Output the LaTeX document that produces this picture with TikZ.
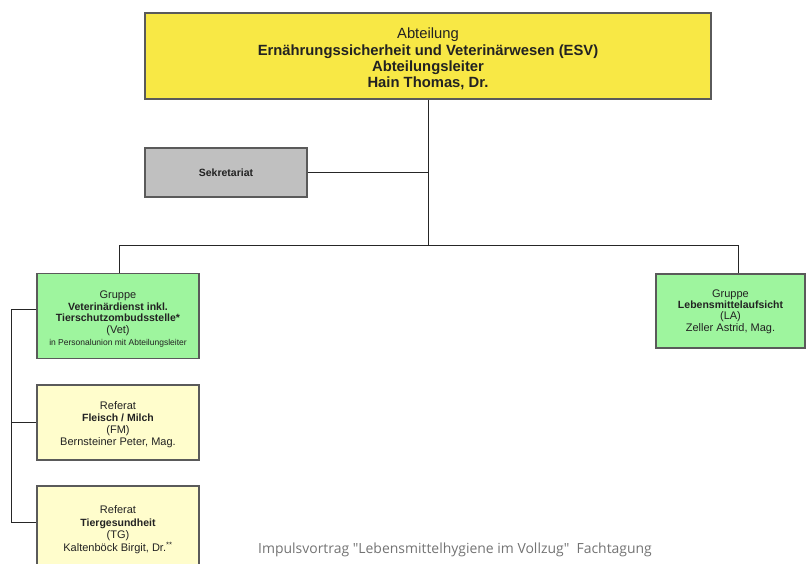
\documentclass[tikz,border=0pt]{standalone}
\usepackage{fontspec}
\setmainfont{Liberation Sans}
\newfontfamily\footfont{Open Sans}
\definecolor{topyellow}{HTML}{F8E845}
\definecolor{sekgray}{HTML}{C0C0C0}
\definecolor{grpgreen}{HTML}{9EF59E}
\definecolor{refyellow}{HTML}{FFFDCC}
\definecolor{bordergray}{HTML}{5A5A5A}
\definecolor{txt}{HTML}{222222}
\begin{document}
\begin{tikzpicture}[x=1pt,y=-1pt,
  box/.style={draw=bordergray, line width=1.2pt, inner sep=0pt},
  lbl/.style={inner sep=0pt, align=center, text=txt, font=\fontsize{11}{12}\selectfont},
  conn/.style={draw=black!85, line width=0.8pt}]
\newcommand\bt[1]{{\fontsize{10.5}{12}\selectfont\bfseries #1}}
\useasboundingbox (0,0) rectangle (806,563);
\clip (0,0) rectangle (806,563);
% boxes
\node[box, fill=topyellow, minimum width=566pt, minimum height=86pt] (top) at (428,56) {};
\node[box, fill=sekgray, minimum width=162pt, minimum height=49pt] (sek) at (226,172.5) {};
\node[box, fill=grpgreen, minimum width=162pt, minimum height=85pt] (vet) at (118,316) {};
\node[box, fill=grpgreen, minimum width=149pt, minimum height=74pt] (la) at (730.5,311) {};
\node[box, fill=refyellow, minimum width=162pt, minimum height=75pt] (fm) at (118,422.5) {};
\node[box, fill=refyellow, minimum width=162pt, minimum height=80pt] (tg) at (118,526) {};
% texts
\node[lbl, font=\fontsize{14.8}{16.3}\selectfont] (topt) at ([yshift=-3pt]top.center)
  {Abteilung\\\textbf{Ernährungssicherheit und Veterinärwesen (ESV)}\\\textbf{Abteilungsleiter}\\\textbf{Hain Thomas, Dr.}};
\node[lbl, font=\fontsize{10.5}{12}\selectfont\bfseries] (sekt) at (sek.center) {Sekretariat};
\node[lbl, font=\fontsize{11}{11.6}\selectfont] (vett) at ([yshift=-3pt]vet.center)
  {Gruppe\\\bt{Veterinärdienst inkl.}\\\bt{Tierschutzombudsstelle*}\\(Vet)\\{\fontsize{8.5}{10.5}\selectfont in Personalunion mit Abteilungsleiter}};
\node[lbl, font=\fontsize{11}{11.4}\selectfont] (lat) at ([yshift=-0.5pt]la.center)
  {Gruppe\\\bt{Lebensmittelaufsicht}\\(LA)\\Zeller Astrid, Mag.};
\node[lbl] (fmt) at ([yshift=-2.5pt]fm.center)
  {Referat\\\bt{Fleisch / Milch}\\(FM)\\Bernsteiner Peter, Mag.};
\node[lbl, font=\fontsize{11}{12.6}\selectfont] (tgt) at ([yshift=-3.5pt]tg.center)
  {Referat\\\bt{Tiergesundheit}\\(TG)\\Kaltenböck Birgit, Dr.\textsuperscript{**}};
% connectors
\coordinate (hub) at (428,245);
\coordinate (hl) at (119,245);
\coordinate (hr) at (738,245);
\coordinate (sj) at (428,172.5);
\coordinate (b0) at (11,309);
\coordinate (b1) at (11,422.5);
\coordinate (b2) at (11,522);
\draw[conn] (top.south) -- (hub);
\draw[conn] (sek.east) -- (sj);
\draw[conn] (hl) -- (hr);
\draw[conn] (hl) -- (hl |- vet.north);
\draw[conn] (hr) -- (hr |- la.north);
\draw[conn] (b0 -| vet.west) -- (b0) -- (b2) -- (b2 -| tg.west);
\draw[conn] (b1) -- (b1 -| fm.west);
\node[font=\footfont\fontsize{13.95}{15}\selectfont, text=black!55, anchor=west, inner sep=0pt] (foot) at (258,550)
  {Impulsvortrag "Lebensmittelhygiene im Vollzug"\ \ Fachtagung};
\end{tikzpicture}
\end{document}
